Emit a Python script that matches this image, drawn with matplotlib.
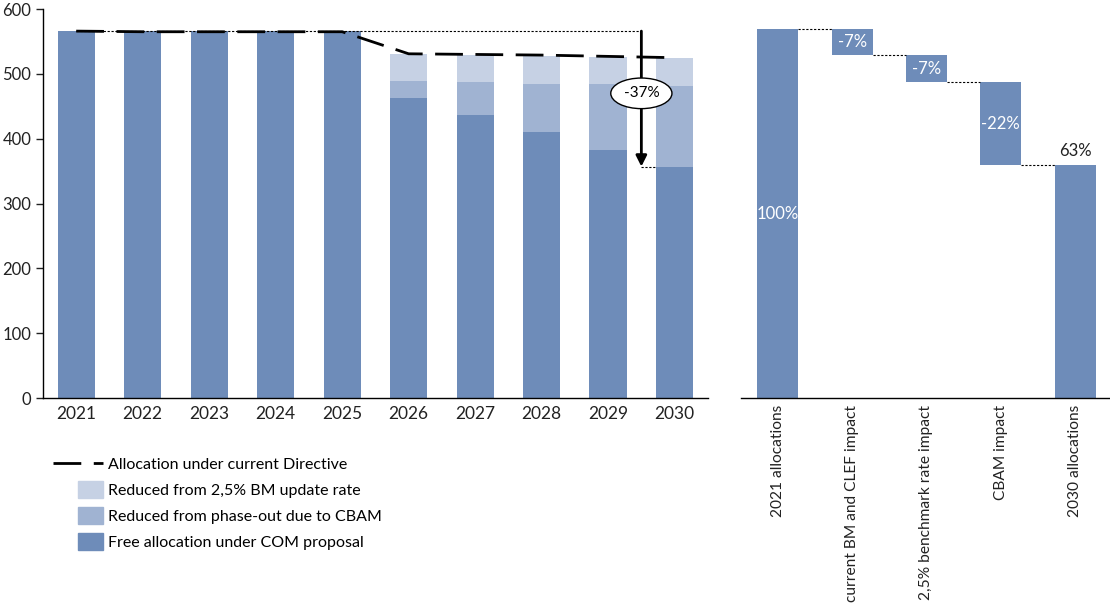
import matplotlib
matplotlib.use("Agg")
import matplotlib.pyplot as plt
import matplotlib.patches as mpatches
from matplotlib.lines import Line2D
from matplotlib.legend_handler import HandlerPatch

plt.rcParams["font.family"] = ["Lato", "DejaVu Sans"]

# Allocations par année (Mt)
annees = ["2021", "2022", "2023", "2024", "2025", "2026", "2027", "2028", "2029", "2030"]
allocation_com = [566, 566, 566, 566, 566, 463, 437, 411, 383, 357]
reduction_cbam = [0, 0, 0, 0, 0, 26, 50, 74, 102, 125]
reduction_bm = [0, 0, 0, 0, 0, 42, 42, 43, 41, 42]
directive_actuelle = [566, 565, 565, 565, 565, 531, 530, 529, 527, 525]
baisse_totale = "-37%"

# Cascade en pourcentage
etapes = ["2021 allocations", "current BM and CLEF impact",
          "2,5% benchmark rate impact", "CBAM impact", "2030 allocations"]
etapes_pct = [100, -7.0, -7.4, -22.3]

c_fonce = "#6E8CB9"
c_moyen = "#A0B3D2"
c_clair = "#C6D1E4"
tirets = (10, 4.5)

fig = plt.figure(figsize=(11.10, 6.04), dpi=100)

# ---- Graphique de gauche : barres empilées ----
ax = fig.add_axes([0.0387, 0.341, 0.599, 0.644])
x = range(len(annees))
w = 0.56
ax.bar(x, allocation_com, width=w, color=c_fonce, zorder=2)
bas = [a + b for a, b in zip(allocation_com, reduction_cbam)]
ax.bar(x, reduction_cbam, width=w, bottom=allocation_com, color=c_moyen, zorder=2)
ax.bar(x, reduction_bm, width=w, bottom=bas, color=c_clair, zorder=2)
ax.plot(x, directive_actuelle, color="black", lw=2, dashes=tirets, zorder=4)

xa = 8.5
haut = allocation_com[0]
fin = allocation_com[-1]
ax.plot([0, xa], [haut, haut], color="black", lw=0.8, ls=(0, (2, 1.5)), zorder=3)
ax.plot([xa, 9 - w / 2], [fin, fin], color="black", lw=0.8, ls=(0, (2, 1.5)), zorder=3)
ax.annotate("", xy=(xa, fin), xytext=(xa, haut),
            arrowprops=dict(arrowstyle="-|>", color="black", lw=2,
                            mutation_scale=16, shrinkA=0, shrinkB=0), zorder=5)
ax.text(xa, 470, baisse_totale, ha="center", va="center", fontsize=11, zorder=6,
        bbox=dict(boxstyle="ellipse,pad=0.25", fc="white", ec="black", lw=1))

ax.set_xlim(-0.5, 9.5)
ax.set_ylim(0, 600)
ax.set_yticks(range(0, 601, 100))
ax.set_xticks(list(x))
ax.set_xticklabels(annees)
ax.tick_params(axis="y", labelsize=12, length=5, width=1, colors="#222222")
ax.tick_params(axis="x", labelsize=12.5, length=0, pad=6, colors="#222222")
for s in ["top", "right"]:
    ax.spines[s].set_visible(False)
for s in ["left", "bottom"]:
    ax.spines[s].set_color("black")
    ax.spines[s].set_linewidth(1)


def patch_etroit(legend, orig_handle, xdescent, ydescent, width, height, fontsize):
    return mpatches.Rectangle((width * 0.5 - xdescent, -ydescent - 2), width * 0.5, height + 4)


poignees = [
    Line2D([], [], color="black", lw=2, dashes=tirets),
    mpatches.Patch(color=c_clair),
    mpatches.Patch(color=c_moyen),
    mpatches.Patch(color=c_fonce),
]
textes = ["Allocation under current Directive", "Reduced from 2,5% BM update rate",
          "Reduced from phase-out due to CBAM", "Free allocation under COM proposal"]
fig.legend(poignees, textes, loc="upper left", bbox_to_anchor=(0.035, 0.266),
           frameon=False, fontsize=11.5, handlelength=3.1, handletextpad=0.35,
           labelspacing=0.75,
           handler_map={mpatches.Patch: HandlerPatch(patch_func=patch_etroit)})

# ---- Graphique de droite : cascade ----
ax2 = fig.add_axes([0.668, 0.341, 0.332, 0.644])
niveaux = [etapes_pct[0]]
for v in etapes_pct[1:]:
    niveaux.append(niveaux[-1] + v)
final = niveaux[-1]
w2 = 0.55

ax2.bar(0, etapes_pct[0], width=w2, color=c_fonce)
ax2.text(0, etapes_pct[0] / 2, f"{etapes_pct[0]:.0f}%", ha="center", va="center",
         color="white", fontsize=12)
for i, v in enumerate(etapes_pct[1:], start=1):
    ax2.bar(i, v, width=w2, bottom=niveaux[i - 1], color=c_fonce)
    ax2.text(i, niveaux[i - 1] + v / 2, f"{v:.0f}%", ha="center", va="center",
             color="white", fontsize=12)
ax2.bar(4, final, width=w2, color=c_fonce)
ax2.text(4, final + 1.5, f"{final:.0f}%", ha="center", va="bottom",
         color="#222222", fontsize=12)
for i, niv in enumerate(niveaux):
    ax2.plot([i + w2 / 2, i + 1 - w2 / 2], [niv, niv], color="black", lw=0.8,
             ls=(0, (2, 1.5)))

ax2.set_xlim(-0.49, 4.47)
ax2.set_ylim(0, 105.5)
ax2.set_yticks([])
ax2.set_xticks(range(len(etapes)))
ax2.set_xticklabels(etapes, rotation=90, va="top", ha="center", fontsize=11.2,
                    color="#222222")
ax2.tick_params(axis="x", length=0, pad=5)
for s in ["top", "right", "left"]:
    ax2.spines[s].set_visible(False)
ax2.spines["bottom"].set_color("black")
ax2.spines["bottom"].set_linewidth(1)

fig.savefig("out.png", dpi=100)
